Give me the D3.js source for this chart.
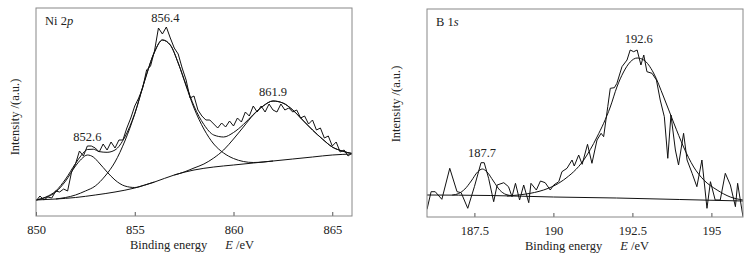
<!DOCTYPE html>
<html>
<head>
<meta charset="utf-8">
<script src="https://cdn.jsdelivr.net/npm/d3@7"></script>
<style>
  body { margin: 0; background: #fff; }
</style>
</head>
<body>
<svg id="xps_svg" width="754" height="262"></svg>
<script>
// ---- Ni 2p panel data (binding energy eV, intensity a.u.) ----
const niRaw = [
  [850.0,15],[850.2,20],[850.4,16],[850.6,19],[850.8,18],[851.0,25],[851.2,24],[851.4,27],[851.6,25],[851.8,44],
  [852.0,52],[852.2,65],[852.4,60],[852.6,70],[852.8,70],[853.0,68],[853.2,64],[853.4,72],[853.6,66],[853.8,74],
  [854.0,68],[854.2,76],[854.4,76],[854.6,88],[854.8,98],[855.0,110],[855.2,118],[855.4,128],[855.6,146],[855.8,150],
  [856.0,165],[856.2,188],[856.4,182],[856.6,189],[856.8,178],[857.0,168],[857.2,162],[857.4,148],[857.6,136],[857.8,118],
  [858.0,120],[858.2,106],[858.4,100],[858.6,96],[858.8,96],[859.0,92],[859.2,88],[859.4,93],[859.6,89],[859.8,95],
  [860.0,90],[860.2,98],[860.4,94],[860.6,104],[860.8,100],[861.0,110],[861.2,104],[861.4,110],[861.6,104],[861.8,112],
  [862.0,106],[862.2,104],[862.4,112],[862.6,106],[862.8,108],[863.0,104],[863.2,106],[863.4,98],[863.6,100],[863.8,92],
  [864.0,96],[864.2,86],[864.4,88],[864.6,78],[864.8,80],[865.0,70],[865.2,74],[865.4,64],[865.6,66],[865.8,60],[866.0,63]
];
const niBackground = [
  [850,16],[851,17],[852,18.5],[853,21],[854,24],[855,28],[856,34],[857,41],[858,46],
  [859,49],[860,51],[861,53],[862,55],[863,57],[864,59],[865,61],[866,62]
];
const niPeakA = [
  [850,16],[850.5,18.5],[851,24],[851.5,35],[852,50],[852.3,57],[852.6,61],[852.9,59],[853.2,53],
  [853.6,44],[854,36],[854.5,30],[855,28.5],[855.5,31],[856,34]
];
const niPeakB = [
  [851,17],[852,21],[852.5,25],[853,30],[853.5,40],[854,54],[854.5,75],[855,102],[855.5,135],[856,164],
  [856.4,176],[856.8,171],[857.2,153],[857.6,130],[858,108],[858.5,87],[859,72],[859.5,63],[860,57.5],
  [860.5,54.5],[861,53.5],[861.5,54],[862,55]
];
const niPeakC = [
  [857,41],[857.5,44],[858,48],[858.5,52],[859,58],[859.5,66],[860,77],[860.5,89],[861,101],[861.5,110],
  [862,115],[862.5,113],[863,106],[863.5,96],[864,86],[864.5,77],[865,69],[865.5,65],[866,62.5]
];
const niEnvelope = [
  [850,16],[850.5,19],[851,25],[851.5,37],[852,52.5],[852.3,60.8],[852.6,66.5],[852.9,66.8],[853.2,64.4],
  [853.6,63.7],[854,66],[854.5,79],[855,102.5],[855.5,135.5],[856,164],[856.4,176],[856.8,171],[857.2,153],
  [857.6,131],[858,110],[858.5,91.5],[859,81],[859.5,79],[860,83.5],[860.5,91.5],[861,101.5],[861.5,110],
  [862,115],[862.5,113],[863,106],[863.5,96],[864,86],[864.5,77],[865,69],[865.5,65],[866,62.5]
];
const niTicks = [850, 855, 860, 865];
const niPeakText = ['852.6', '856.4', '861.9'];
const niPeakTextE = [852.6, 856.55, 862.0];
const niPeakTextI = [75, 194, 120];

// ---- B 1s panel data ----
const bRaw = [
  [186.00,7.7],[186.13,25.3],[186.26,25.3],[186.47,17.7],[186.72,48.7],[186.95,25.3],[187.08,24.3],[187.29,8.7],
  [187.50,30.3],[187.71,54.3],[187.81,54.3],[187.95,38.7],[188.11,15.3],[188.22,32],[188.43,34.3],[188.58,30.3],
  [188.69,20.3],[188.80,33.7],[188.93,17],[189.06,32],[189.22,14.3],[189.29,33.7],[189.46,27],[189.59,36],
  [189.74,34.3],[189.90,27],[190.01,32],[190.17,35.3],[190.27,45.3],[190.43,48.7],[190.59,57],[190.66,51],
  [190.80,62],[190.91,52.7],[191.08,72.7],[191.22,53.7],[191.38,77],[191.51,83.7],[191.59,80.3],[191.72,110.3],
  [191.80,128.7],[191.93,129.3],[192.01,133.7],[192.17,150.3],[192.33,157],[192.43,167],[192.54,165.3],[192.65,167],
  [192.77,152],[192.86,162],[192.96,145.3],[193.12,143.7],[193.26,137],[193.38,117],[193.51,100.3],[193.62,58.7],
  [193.72,102],[193.86,67],[193.96,52],[194.12,83.7],[194.23,57],[194.39,43.7],[194.54,30.3],[194.70,57],
  [194.86,8.7],[194.97,35.3],[195.12,17],[195.28,17],[195.44,43.7],[195.60,32],[195.76,10.3],[195.83,33.7],
  [195.94,12],[196.00,0.3]
];
const bBackground = [[186,22],[188,21.5],[190,20],[192,19],[194,17.5],[196,16]];
const bPeakA = [
  [186.8,22],[187.0,23.5],[187.2,28],[187.4,36],[187.6,45],[187.75,48],[187.9,45],[188.1,36],
  [188.3,27],[188.5,22.5],[188.7,21.3]
];
const bPeakB = [
  [188.53,21],[189.69,27],[190.32,37],[190.96,57],[191.38,80],[191.80,110],[192.01,130],[192.22,145],
  [192.43,155],[192.65,159],[192.86,157],[193.17,144],[193.49,120],[193.81,94],[194.12,70],[194.44,50],
  [194.76,37],[195.18,27],[195.60,20],[196.00,17]
];
const bTicks = [187.5, 190, 192.5, 195];
const bPeakText = ['187.7', '192.6'];
const bPeakTextE = [187.74, 192.7];
const bPeakTextI = [60, 174];

const FONT = '"Liberation Serif", "DejaVu Serif", serif';
const svg = d3.select('#xps_svg');

function drawPanel(p){
    const innerWidth = p.right - p.left;
    const innerHeight = p.bottom - p.top;

    const xScale = d3.scaleLinear().domain(p.xDomain).range([0, innerWidth]);
    const yScale = d3.scaleLinear().domain([0, 208]).range([innerHeight, 0]);

    const g = svg.append('g').attr('transform', 'translate(' + p.left + ',' + p.top + ')')
        .attr('font-family', FONT).attr('font-size', 12.5);

    const clipId = 'clip_' + p.name;
    g.append('clipPath').attr('id', clipId)
        .append('rect').attr('width', innerWidth).attr('height', innerHeight);

    //fitted curves are smooth, raw spectrum is straight segments
    const smooth = d3.line().x(d => xScale(d[0])).y(d => yScale(d[1])).curve(d3.curveMonotoneX);
    const jagged = d3.line().x(d => xScale(d[0])).y(d => yScale(d[1]));

    const plot = g.append('g').attr('clip-path', 'url(#' + clipId + ')');
    p.fits.forEach(curve => {
        plot.append('path').attr('d', smooth(curve))
            .attr('fill', 'none').attr('stroke', '#111').attr('stroke-width', 1);
    });
    plot.append('path').attr('d', jagged(p.raw))
        .attr('fill', 'none').attr('stroke', '#111').attr('stroke-width', 1);

    //x axis, ticks point inside the frame
    const xAxis = d3.axisBottom(xScale).tickValues(p.ticks).tickSizeInner(-4).tickSizeOuter(0)
        .tickPadding(9).tickFormat(d3.format(p.tickFmt));
    const ax = g.append('g').attr('transform', `translate(0,${innerHeight})`).call(xAxis)
        .attr('font-family', FONT).attr('font-size', 12.5);
    ax.select('.domain').remove();
    ax.selectAll('line').attr('stroke', '#555');
    ax.selectAll('text').attr('fill', '#222');

    //frame
    g.append('rect').attr('x', 0).attr('y', 0).attr('width', innerWidth).attr('height', innerHeight)
        .attr('fill', 'none').attr('stroke', '#888').attr('stroke-width', 1);

    //peak labels
    p.peakText.forEach((t, i) => {
        g.append('text').attr('x', xScale(p.peakTextE[i])).attr('y', yScale(p.peakTextI[i]))
            .attr('text-anchor', 'middle').attr('fill', '#222').text(t);
    });

    //panel name with italic orbital letter
    const name = g.append('text').attr('x', 9).attr('y', 17).attr('fill', '#222');
    name.append('tspan').text(p.title[0]);
    name.append('tspan').attr('font-style', 'italic').text(p.title[1]);

    //axis titles
    const xl = g.append('text').attr('x', p.xLabelX).attr('y', innerHeight + 33).attr('fill', '#222');
    xl.append('tspan').text('Binding energy');
    xl.append('tspan').attr('dx', 18).attr('font-style', 'italic').text('E');
    xl.append('tspan').text(' /eV');

    g.append('text')
        .attr('transform', 'rotate(-90)')
        .attr('x', -p.yLabelY)
        .attr('y', p.yLabelX)
        .attr('text-anchor', 'middle')
        .attr('fill', '#222')
        .text('Intensity /(a.u.)');
}

drawPanel({
    name: 'ni', left: 36, right: 352, top: 8, bottom: 216,
    xDomain: [850, 866], ticks: niTicks, tickFmt: 'd',
    raw: niRaw, fits: [niBackground, niPeakA, niPeakB, niPeakC, niEnvelope],
    peakText: niPeakText, peakTextE: niPeakTextE, peakTextI: niPeakTextI,
    title: ['Ni 2', 'p'], xLabelX: 94, yLabelX: -17, yLabelY: 109
});

drawPanel({
    name: 'b', left: 427, right: 743, top: 9, bottom: 217,
    xDomain: [186, 196], ticks: bTicks, tickFmt: '',
    raw: bRaw, fits: [bBackground, bPeakA, bPeakB],
    peakText: bPeakText, peakTextE: bPeakTextE, peakTextI: bPeakTextI,
    title: ['B 1', 's'], xLabelX: 98, yLabelX: -27, yLabelY: 95
});
</script>
</body>
</html>
